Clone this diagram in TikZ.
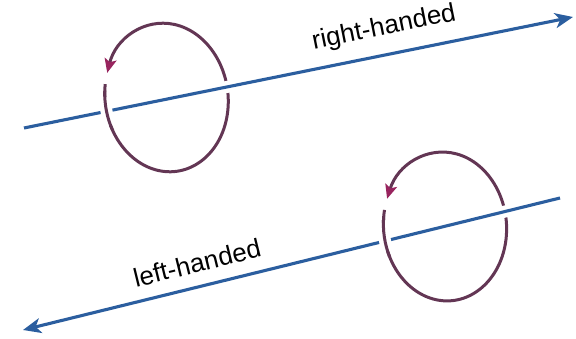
\documentclass[tikz,border=0pt]{standalone}
\usepackage{fontspec}
\setmainfont{Liberation Sans}
\usetikzlibrary{arrows.meta}
\definecolor{axisblue}{HTML}{2B5E9F}
\definecolor{ringpurple}{HTML}{633654}
\definecolor{tipmagenta}{HTML}{98245E}

\begin{document}
\begin{tikzpicture}[x=1pt,y=1pt,
    axis/.style={draw=axisblue,line width=3.1pt,
      -{Stealth[length=18pt,width=15pt,inset=5pt]}},
    gap/.style={draw=white,line width=12pt},
    ring/.style={draw=ringpurple,line width=3pt},
    ringtip/.style={-{Stealth[length=14pt,width=12pt,inset=3pt,color=tipmagenta]}},
    handtext/.style={font=\fontsize{26}{30}\selectfont,inner sep=0pt}]
  \useasboundingbox (0,0) rectangle (576,339);

  % the two rings, drawn first so the axes pass over them
  \foreach \cx/\cy/\tilt in {166.5/241.5/8,445/112.5/5} {
    \begin{scope}[shift={(\cx,\cy)},rotate=\tilt]
      \draw[ring,ringtip] (163:61.5 and 74.5)
        arc[start angle=163,end angle=514,x radius=61.5,y radius=74.5];
    \end{scope}
  }

  \coordinate (rhstart) at (24,211);
  \coordinate (rhend) at (573,322);
  \coordinate (lhstart) at (560,141);
  \coordinate (lhend) at (23,9);
  \draw[gap,shorten >=20pt] (rhstart) -- (rhend);
  \draw[gap,shorten >=20pt] (lhstart) -- (lhend);
  \draw[axis] (rhstart) -- (rhend);
  \draw[axis] (lhstart) -- (lhend);

  % left side of each ring goes in front of its axis
  \foreach \cx/\cy/\tilt in {166.5/241.5/8,445/112.5/5} {
    \begin{scope}[shift={(\cx,\cy)},rotate=\tilt]
      \draw[gap] (173:61.5 and 74.5)
        arc[start angle=173,end angle=195,x radius=61.5,y radius=74.5];
      \draw[ring] (168:61.5 and 74.5)
        arc[start angle=168,end angle=200,x radius=61.5,y radius=74.5];
    \end{scope}
  }

  \node[handtext,rotate=11.4] (righthanded) at (384,311) {right-handed};
  \node[handtext,rotate=13.8] (lefthanded) at (197,76) {left-handed};
\end{tikzpicture}
\end{document}
